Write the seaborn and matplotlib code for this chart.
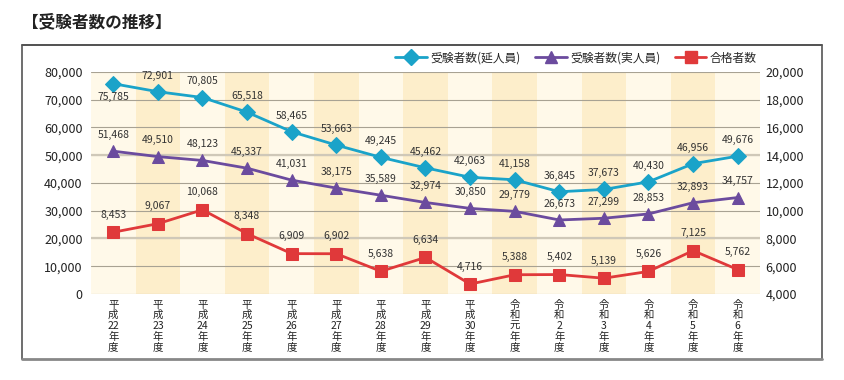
import seaborn as sns
import matplotlib.pyplot as plt
import pandas as pd
from matplotlib.lines import Line2D
from matplotlib.ticker import FuncFormatter

years = ["平\n成\n22\n年\n度", "平\n成\n23\n年\n度", "平\n成\n24\n年\n度", "平\n成\n25\n年\n度",
         "平\n成\n26\n年\n度", "平\n成\n27\n年\n度", "平\n成\n28\n年\n度", "平\n成\n29\n年\n度",
         "平\n成\n30\n年\n度", "令\n和\n元\n年\n度", "令\n和\n2\n年\n度", "令\n和\n3\n年\n度",
         "令\n和\n4\n年\n度", "令\n和\n5\n年\n度", "令\n和\n6\n年\n度"]
nobe = [75785, 72901, 70805, 65518, 58465, 53663, 49245, 45462, 42063, 41158, 36845, 37673, 40430, 46956, 49676]
jitsu = [51468, 49510, 48123, 45337, 41031, 38175, 35589, 32974, 30850, 29779, 26673, 27299, 28853, 32893, 34757]
goukaku = [8453, 9067, 10068, 8348, 6909, 6902, 5638, 6634, 4716, 5388, 5402, 5139, 5626, 7125, 5762]

df = pd.DataFrame({"idx": range(len(years)), "nobe": nobe, "jitsu": jitsu, "goukaku": goukaku})

sns.set_style("white")
plt.rcParams["font.family"] = ["Noto Sans CJK JP", "DejaVu Sans"]

blue = "#1aa3c9"
purple = "#6b4b9e"
red = "#e0393a"
grid_c = "#a8a293"

fig = plt.figure(figsize=(8.45, 3.8), dpi=100)
ax = fig.add_axes([91 / 845, 1 - 294 / 380, (760 - 91) / 845, (294 - 72) / 380])
ax.set_facecolor("#fff9e9")
for i in range(len(years)):
    if i % 2 == 1:
        ax.axvspan(i - 0.5, i + 0.5, color="#fdeecb", zorder=0, lw=0)

ax.set_axisbelow(True)
ax.set_xlim(-0.5, len(years) - 0.5)
ax.set_ylim(0, 80000)
ax.set_yticks(range(0, 80001, 10000))
ax.yaxis.grid(True, color=grid_c, lw=0.8)
for v in [20000, 50000]:
    ax.axhline(v, color="#cfc8b8", lw=1.6, zorder=0.6)
for s in ax.spines.values():
    s.set_visible(False)

sns.lineplot(data=df, x="idx", y="nobe", ax=ax, color=blue, lw=2, marker="D", markersize=8,
             markeredgecolor=blue, zorder=3)
sns.lineplot(data=df, x="idx", y="jitsu", ax=ax, color=purple, lw=2, marker="^", markersize=9,
             markeredgecolor=purple, zorder=3)

ax2 = ax.twinx()
ax2.set_ylim(4000, 20000)
ax2.set_yticks(range(4000, 20001, 2000))
for s in ax2.spines.values():
    s.set_visible(False)
sns.lineplot(data=df, x="idx", y="goukaku", ax=ax2, color=red, lw=2, marker="s", markersize=8,
             markeredgecolor=red, zorder=3)

fmt = FuncFormatter(lambda v, p: f"{int(v):,}")
ax.yaxis.set_major_formatter(fmt)
ax2.yaxis.set_major_formatter(fmt)
ax.tick_params(axis="y", length=0, pad=6, labelsize=9, labelcolor="#222222")
ax2.tick_params(axis="y", length=0, pad=4, labelsize=9, labelcolor="#222222")
ax.set_xticks(range(len(years)))
ax.set_xticklabels(years, fontsize=7.5, linespacing=1.08, color="#222222")
ax.tick_params(axis="x", length=0, pad=4)
ax.set_xlabel("")
ax.set_ylabel("")
ax2.set_ylabel("")

for i in range(len(years)):
    if i == 0:
        ax.annotate(f"{nobe[i]:,}", (i, nobe[i]), xytext=(0, -6), textcoords="offset points",
                    ha="center", va="top", fontsize=7.5, color="#333333")
    else:
        ax.annotate(f"{nobe[i]:,}", (i, nobe[i]), xytext=(0, 8), textcoords="offset points",
                    ha="center", va="bottom", fontsize=7.5, color="#333333")
    ax.annotate(f"{jitsu[i]:,}", (i, jitsu[i]), xytext=(0, 8), textcoords="offset points",
                ha="center", va="bottom", fontsize=7.5, color="#333333")
    ax2.annotate(f"{goukaku[i]:,}", (i, goukaku[i]), xytext=(0, 9), textcoords="offset points",
                 ha="center", va="bottom", fontsize=7.5, color="#333333")

handles = [
    Line2D([], [], color=blue, lw=2, marker="D", markersize=8),
    Line2D([], [], color=purple, lw=2, marker="^", markersize=9),
    Line2D([], [], color=red, lw=2, marker="s", markersize=8),
]
fig.legend(handles, ["受験者数(延人員)", "受験者数(実人員)", "合格者数"], ncol=3, frameon=False,
           loc="center right", bbox_to_anchor=(757 / 845, 1 - 58 / 380), fontsize=8.5,
           handlelength=2.7, columnspacing=1.2, handletextpad=0.3, borderpad=0, borderaxespad=0)

# outer frame
W, H = 845, 380
fig.add_artist(Line2D([22 / W, 822 / W], [1 - 45 / H, 1 - 45 / H], color="#333333", lw=1.2))
fig.add_artist(Line2D([22 / W, 22 / W], [1 - 45 / H, 1 - 359 / H], color="#555555", lw=1.2))
fig.add_artist(Line2D([822 / W, 822 / W], [1 - 45 / H, 1 - 359 / H], color="#555555", lw=1.2))
fig.add_artist(Line2D([22 / W, 822 / W], [1 - 359 / H, 1 - 359 / H], color="#888888", lw=2))

fig.text(22 / W, 1 - 22 / H, "【受験者数の推移】", fontsize=12, fontweight="bold",
         ha="left", va="center", color="#222222")

plt.savefig("out.png", dpi=100)
